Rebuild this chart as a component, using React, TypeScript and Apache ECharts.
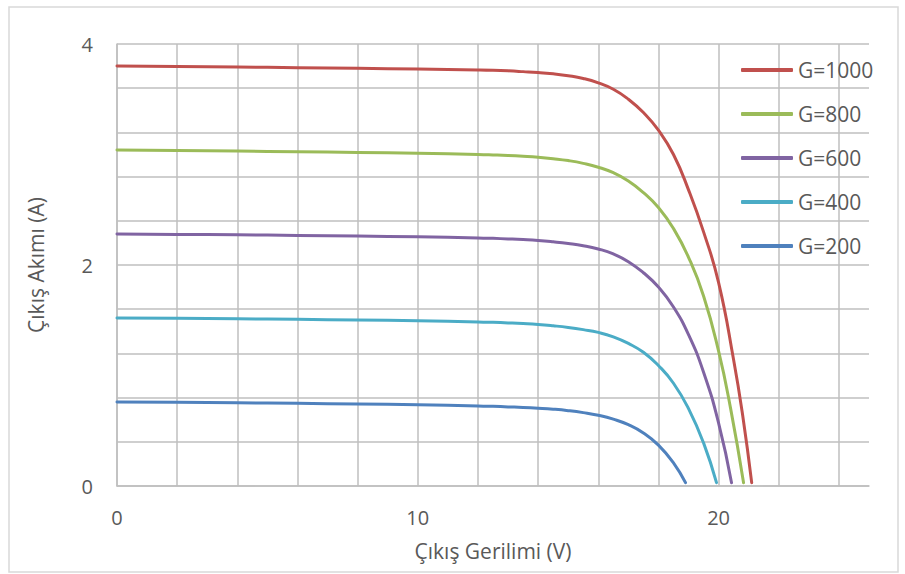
import React, { useEffect, useRef } from "react";
import * as echarts from "echarts";

const seriesNames = ["G=1000", "G=800", "G=600", "G=400", "G=200"];
const seriesColors = ["#C0504D", "#9BBB59", "#8064A2", "#4BACC6", "#4F81BD"];

const g1000: [number, number][] = [
  [0, 3.8], [2, 3.796], [4, 3.791], [6, 3.786], [8, 3.78], [10, 3.773], [12, 3.765],
  [12.5, 3.762], [13, 3.757], [13.5, 3.75], [14, 3.742], [14.5, 3.73], [15, 3.713],
  [15.5, 3.688], [16, 3.648], [16.5, 3.59], [17, 3.5], [17.5, 3.38], [18, 3.22],
  [18.5, 3.0], [19, 2.68], [19.5, 2.3], [20, 1.84], [20.5, 1.14], [20.8, 0.64],
  [21.1, 0.03],
];
const g800: [number, number][] = [
  [0, 3.04], [2, 3.036], [4, 3.031], [6, 3.025], [8, 3.019], [10, 3.011], [12, 3.0],
  [12.5, 2.996], [13, 2.991], [13.5, 2.984], [14, 2.975], [14.5, 2.962], [15, 2.945],
  [15.5, 2.92], [16, 2.885], [16.5, 2.835], [17, 2.76], [17.5, 2.655], [18, 2.52],
  [18.5, 2.33], [19, 2.07], [19.5, 1.72], [20, 1.22], [20.4, 0.7], [20.83, 0.03],
];
const g600: [number, number][] = [
  [0, 2.28], [2, 2.277], [4, 2.273], [6, 2.268], [8, 2.262], [10, 2.255], [12, 2.245],
  [12.5, 2.241], [13, 2.236], [13.5, 2.23], [14, 2.222], [14.5, 2.21], [15, 2.195],
  [15.5, 2.175], [16, 2.145], [16.5, 2.1], [17, 2.03], [17.5, 1.93], [18, 1.8],
  [18.5, 1.62], [19, 1.37], [19.5, 1.03], [20, 0.57], [20.43, 0.03],
];
const g400: [number, number][] = [
  [0, 1.52], [2, 1.517], [4, 1.513], [6, 1.508], [8, 1.502], [10, 1.495], [12, 1.485],
  [12.5, 1.481], [13, 1.476], [13.5, 1.47], [14, 1.462], [14.5, 1.45], [15, 1.435],
  [15.5, 1.415], [16, 1.39], [16.5, 1.35], [17, 1.29], [17.5, 1.21], [18, 1.09],
  [18.5, 0.93], [19, 0.7], [19.5, 0.39], [19.93, 0.03],
];
const g200: [number, number][] = [
  [0, 0.76], [2, 0.757], [4, 0.753], [6, 0.748], [8, 0.742], [10, 0.735], [12, 0.725],
  [12.5, 0.721], [13, 0.716], [13.5, 0.711], [14, 0.704], [14.5, 0.695], [15, 0.682],
  [15.5, 0.664], [16, 0.64], [16.5, 0.605], [17, 0.555], [17.5, 0.48], [18, 0.37],
  [18.5, 0.21], [18.9, 0.03],
];
const seriesData = [g1000, g800, g600, g400, g200];

const xTitle = "Çıkış Gerilimi (V)";
const yTitle = "Çıkış Akımı (A)";
const xLabelEvery = 10;
const yLabelEvery = 2;

const FONT = "'Open Sans', 'Noto Sans', sans-serif";
const TEXT = "#595959";
const GRID = "#BFBFBF";

export default function App() {
  const ref = useRef<HTMLDivElement>(null);
  useEffect(() => {
    if (!ref.current) return;
    const chart = echarts.init(ref.current, undefined, { renderer: "svg" });
    chart.setOption({
      animation: false,
      backgroundColor: "#fff",
      textStyle: { fontFamily: FONT },
      graphic: [
        {
          type: "rect",
          shape: { x: 9, y: 7, width: 889, height: 565 },
          style: { fill: "none", stroke: "#D9D9D9", lineWidth: 1.5 },
          silent: true,
        },
      ],
      grid: { left: 117, top: 44, right: 36, bottom: 88, containLabel: false },
      legend: {
        orient: "vertical",
        left: 736,
        top: 54,
        itemWidth: 52,
        itemHeight: 4,
        itemGap: 22,
        icon: "roundRect",
        textStyle: { color: TEXT, fontSize: 21, fontFamily: FONT, lineHeight: 22 },
        data: seriesNames,
      },
      xAxis: {
        type: "value",
        min: 0,
        max: 25,
        interval: 2,
        name: xTitle,
        nameLocation: "middle",
        nameGap: 54,
        nameTextStyle: { color: TEXT, fontSize: 21, fontFamily: FONT, verticalAlign: "top" },
        axisLine: { show: true, lineStyle: { color: GRID, width: 1.5 } },
        axisTick: { show: false },
        axisLabel: {
          color: TEXT,
          fontSize: 20,
          fontFamily: FONT,
          margin: 21,
          showMaxLabel: false,
          formatter: (v: number) => (Math.abs(v % xLabelEvery) < 1e-6 ? String(v) : ""),
        },
        splitLine: { show: true, showMaxLine: false, lineStyle: { color: GRID, width: 1.5 } },
      },
      yAxis: {
        type: "value",
        min: 0,
        max: 4,
        interval: 0.4,
        name: yTitle,
        nameLocation: "middle",
        nameGap: 71,
        nameTextStyle: { color: TEXT, fontSize: 21, fontFamily: FONT },
        axisLine: { show: true, lineStyle: { color: GRID, width: 1.5 } },
        axisTick: { show: false },
        axisLabel: {
          color: TEXT,
          fontSize: 20,
          fontFamily: FONT,
          margin: 24,
          formatter: (v: number) => {
            const r = Math.round(v / yLabelEvery) * yLabelEvery;
            return Math.abs(v - r) < 1e-6 ? String(r) : "";
          },
        },
        splitLine: { show: true, lineStyle: { color: GRID, width: 1.5 } },
      },
      series: seriesNames.map((name, i) => ({
        name,
        type: "line",
        data: seriesData[i],
        smooth: 0.5,
        symbol: "none",
        showSymbol: false,
        color: seriesColors[i],
        lineStyle: { color: seriesColors[i], width: 3, cap: "round", join: "round" },
        itemStyle: { color: seriesColors[i] },
      })),
    });
    return () => chart.dispose();
  }, []);
  return (
    <div
      ref={ref}
      style={{ position: "fixed", left: 0, top: 0, width: 905, height: 574 }}
    />
  );
}
